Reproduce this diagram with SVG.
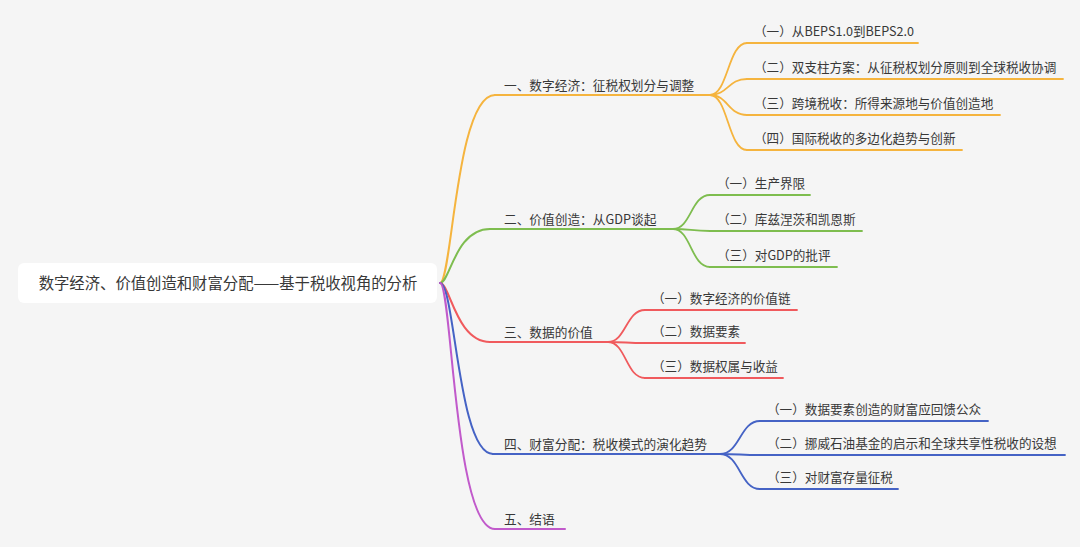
<svg xmlns="http://www.w3.org/2000/svg" width="1080" height="547" viewBox="0 0 1080 547">
<style>
text{font-family:"Noto Sans CJK SC","Microsoft YaHei",sans-serif;fill:#383838;}
.root{font-size:15.35px;text-anchor:middle;}
.br{font-size:12.7px;}
.ch{font-size:12.6px;}
path,line{fill:none;stroke-linecap:round;}
.o{stroke:#F5B43E;}
.g{stroke:#7EBD4F;}
.r{stroke:#F05A5D;}
.b{stroke:#4563C5;}
.p{stroke:#C15ACB;}
.m{stroke-width:2;}
.c{stroke-width:1.8;}
</style>
<rect width="1080" height="547" fill="#f5f5f5"/>
<g id="connectors">
<path class="o m" d="M440,283 C452,283 456,95 495,95"/>
<path class="g m" d="M440,283 C450,283 455,229 490,229"/>
<path class="r m" d="M440,283 C450,283 456,342 490,342"/>
<path class="b m" d="M440,283 C455,283 458,454 493,454"/>
<path class="p m" d="M440,283 C452,283 454,529 495,529"/>
<path class="o c" d="M710,95 C728,95 728,43 747,43"/>
<path class="o c" d="M710,95 C728,95 728,79 747,79"/>
<path class="o c" d="M710,95 C728,95 728,115 747,115"/>
<path class="o c" d="M710,95 C728,95 728,150 747,150"/>
<path class="g c" d="M673,229 C691,229 691,195 710,195"/>
<path class="g c" d="M673,229 C691,229 691,231 710,231"/>
<path class="g c" d="M673,229 C691,229 691,267 710,267"/>
<path class="r c" d="M608,342 C626,342 626,310 645,310"/>
<path class="r c" d="M608,342 C626,342 626,343 645,343"/>
<path class="r c" d="M608,342 C626,342 626,378 645,378"/>
<path class="b c" d="M720,454 C740,454 740,421 760,421"/>
<path class="b c" d="M720,454 C740,454 740,455 760,455"/>
<path class="b c" d="M720,454 C740,454 740,489 760,489"/>
</g>
<g id="root">
<rect x="18" y="263" width="419" height="40" rx="6" fill="#fff"/>
<text class="root" x="228" y="288.5">数字经济、价值创造和财富分配——基于税收视角的分析</text>
</g>
<g id="b1">
<line class="o m" x1="495" y1="95" x2="710" y2="95"/>
<text class="br" x="504" y="90">一、数字经济：征税权划分与调整</text>
</g>
<g id="b1c1"><line class="o c" x1="747" y1="43" x2="918" y2="43"/><text class="ch" x="754" y="36">（一）从BEPS1.0到BEPS2.0</text></g>
<g id="b1c2"><line class="o c" x1="747" y1="79" x2="1063" y2="79"/><text class="ch" x="754" y="72">（二）双支柱方案：从征税权划分原则到全球税收协调</text></g>
<g id="b1c3"><line class="o c" x1="747" y1="115" x2="1000" y2="115"/><text class="ch" x="754" y="108">（三）跨境税收：所得来源地与价值创造地</text></g>
<g id="b1c4"><line class="o c" x1="747" y1="150" x2="962" y2="150"/><text class="ch" x="754" y="143">（四）国际税收的多边化趋势与创新</text></g>
<g id="b2">
<line class="g m" x1="490" y1="229" x2="673" y2="229"/>
<text class="br" x="504" y="224">二、价值创造：从GDP谈起</text>
</g>
<g id="b2c1"><line class="g c" x1="710" y1="195" x2="810" y2="195"/><text class="ch" x="717" y="188">（一）生产界限</text></g>
<g id="b2c2"><line class="g c" x1="710" y1="231" x2="862" y2="231"/><text class="ch" x="717" y="224">（二）库兹涅茨和凯恩斯</text></g>
<g id="b2c3"><line class="g c" x1="710" y1="267" x2="837" y2="267"/><text class="ch" x="717" y="260">（三）对GDP的批评</text></g>
<g id="b3">
<line class="r m" x1="490" y1="342" x2="608" y2="342"/>
<text class="br" x="504" y="337">三、数据的价值</text>
</g>
<g id="b3c1"><line class="r c" x1="645" y1="310" x2="797" y2="310"/><text class="ch" x="652" y="303">（一）数字经济的价值链</text></g>
<g id="b3c2"><line class="r c" x1="645" y1="343" x2="745" y2="343"/><text class="ch" x="652" y="336">（二）数据要素</text></g>
<g id="b3c3"><line class="r c" x1="645" y1="378" x2="783" y2="378"/><text class="ch" x="652" y="371">（三）数据权属与收益</text></g>
<g id="b4">
<line class="b m" x1="493" y1="454" x2="720" y2="454"/>
<text class="br" x="504" y="449">四、财富分配：税收模式的演化趋势</text>
</g>
<g id="b4c1"><line class="b c" x1="760" y1="421" x2="988" y2="421"/><text class="ch" x="767" y="414">（一）数据要素创造的财富应回馈公众</text></g>
<g id="b4c2"><line class="b c" x1="760" y1="455" x2="1065" y2="455"/><text class="ch" x="767" y="448">（二）挪威石油基金的启示和全球共享性税收的设想</text></g>
<g id="b4c3"><line class="b c" x1="760" y1="489" x2="898" y2="489"/><text class="ch" x="767" y="482">（三）对财富存量征税</text></g>
<g id="b5">
<line class="p m" x1="495" y1="529" x2="565" y2="529"/>
<text class="br" x="504" y="524">五、结语</text>
</g>
</svg>
